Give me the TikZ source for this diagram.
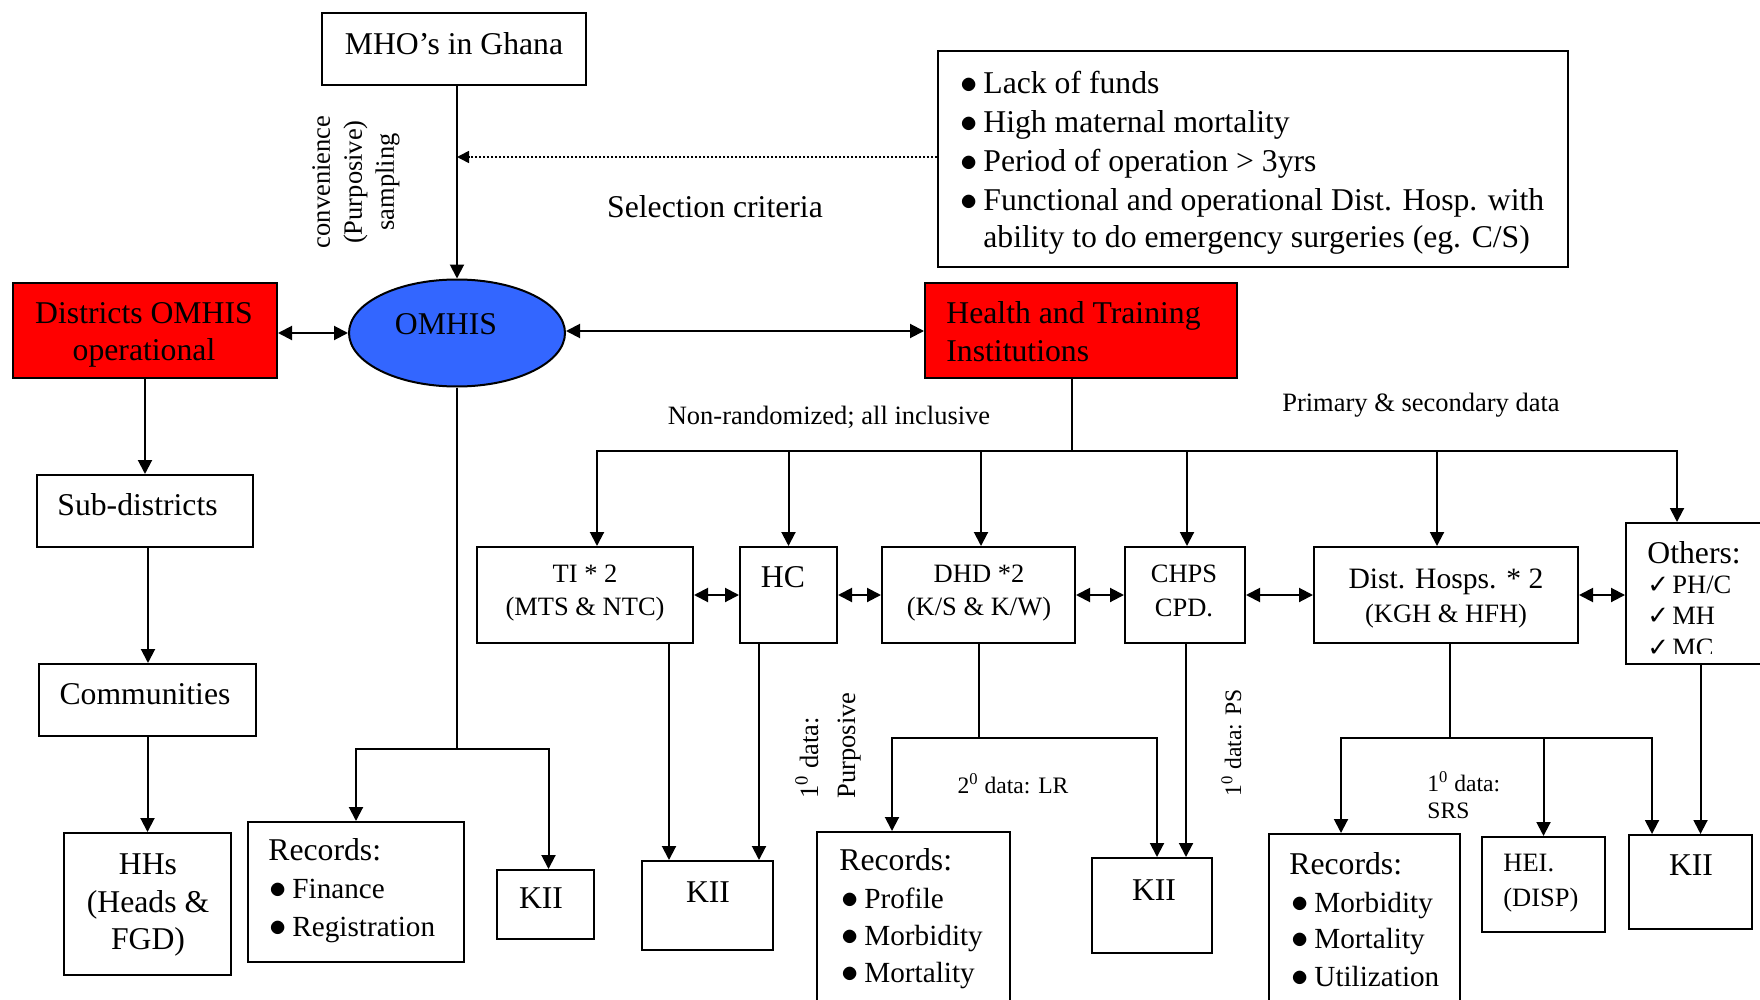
\documentclass[tikz,border=0pt]{standalone}
\usepackage{fontspec}
\setmainfont{Liberation Serif}
\newfontfamily\symfont{DejaVu Sans}
\usetikzlibrary{arrows.meta,shapes.geometric,fit}

\definecolor{boxred}{RGB}{255,0,0}
\definecolor{omhisblue}{RGB}{51,102,255}

% font sizes used in the chart
\newcommand\fm{\fontsize{15.85}{19}\selectfont}
\newcommand\fitem{\fontsize{14.6}{18}\selectfont}
\newcommand\fs{\fontsize{13.25}{16}\selectfont}
\newcommand\fxs{\fontsize{11.8}{14}\selectfont}
\newcommand\bulletitem[1]{\makebox[11.5pt][l]{\fontsize{15.85}{19}\selectfont$\bullet$}#1}
\newcommand\tickitem[1]{\makebox[12.5pt][l]{\symfont\fontsize{13}{15}\selectfont ✓}#1}
\newcommand\putlabel[4][]{\node[lbl,#1] (#2) at #3 {#4};}

\begin{document}
\begin{tikzpicture}[x=0.5pt, y=-0.5pt,
  box/.style={draw, line width=1pt, inner sep=0pt},
  redbox/.style={box, fill=boxred},
  link/.style={line width=1pt},
  thinlink/.style={line width=0.8pt},
  arr/.style={link, -{Triangle[length=7pt,width=7pt]}},
  darr/.style={link, {Triangle[length=7pt,width=7pt]}-{Triangle[length=7pt,width=7pt]}},
  lbl/.style={inner sep=0pt, anchor=base, font=\fm}]

\clip (0,0) rectangle (1760,1000);
\fill[white] (0,0) rectangle (1760,1000);

% ---------- boxes ----------
\node[box, fit={(322,13) (586,85)}] (mho) {};
\node[box, fit={(938,51) (1568,267)}] (crit) {};
\node[redbox, fit={(13,283) (277,378)}] (dist) {};
\node[draw, ellipse, fill=omhisblue, line width=1pt, inner sep=0pt,
      minimum width=108pt, minimum height=53.5pt] (omhis) at (457,333) {};
\node[redbox, fit={(925,283) (1237,378)}] (hti) {};
\node[box, fit={(37,475) (253,547)}] (sub) {};
\node[box, fit={(39,664) (256,736)}] (comm) {};
\node[box, fit={(64,833) (231,975)}] (hhs) {};
\node[box, fit={(248,822) (464,962)}] (rec1) {};
\node[box, fit={(497,870) (594,939)}] (kii1) {};
\node[box, fit={(477,547) (693,643)}] (ti) {};
\node[box, fit={(740,547) (837,643)}] (hc) {};
\node[box, fit={(882,547) (1075,643)}] (dhd) {};
\node[box, fit={(1125,547) (1245,643)}] (chps) {};
\node[box, fit={(1314,547) (1578,643)}] (dh) {};
\node[box, fit={(1626,523) (1775,664)}] (oth) {};
\node[box, fit={(642,861) (773,950)}] (kii2) {};
\node[box, fit={(817,832) (1010,1010)}] (rec2) {};
\node[box, fit={(1092,858) (1212,953)}] (kii3) {};
\node[box, fit={(1269,834) (1460,1010)}] (rec3) {};
\node[box, fit={(1482,837) (1605,932)}] (hei) {};
\node[box, fit={(1629,835) (1752,929)}] (kii4) {};

% ---------- connectors ----------
\draw[arr] (omhis.north |- mho.south) -- (omhis.north);
\coordinate (sel) at (457,157);
\draw[line width=0.8pt, dash pattern=on 0.8pt off 1.2pt, -{Triangle[length=6pt,width=6pt]}]
  (crit.west |- sel) -- (sel);
\draw[darr] (dist.east |- omhis.west) -- (omhis.west);
\draw[darr] ([yshift=1pt]omhis.east) -- ([yshift=1pt]omhis.east -| hti.west);

\draw[arr] (dist.south) -- (dist.south |- sub.north);
\draw[arr] ([xshift=1.5pt]sub.south) -- ([xshift=1.5pt]sub.south |- comm.north);
\draw[arr] (comm.south) -- (comm.south |- hhs.north);

\coordinate (obus) at (457,749);
\draw[thinlink] (omhis.south) -- (obus);
\draw[arr] (obus) -| (rec1.north);
\draw[arr] (obus) -| ([xshift=1.5pt]kii1.north);

\coordinate (hbus) at (1072,451);
\draw[link] (hti.south -| hbus) -- (hbus);
\draw[arr] (hbus) -| ([xshift=6pt]ti.north);
\draw[arr] (hbus) -| (hc.north);
\draw[arr] (hbus) -| ([xshift=1.25pt]dhd.north);
\draw[arr] (hbus) -| ([xshift=1pt]chps.north);
\draw[arr] (hbus) -| ([xshift=-4.5pt]dh.north);
\draw[arr] (hbus) -| ([xshift=-11.75pt]oth.north);

\draw[darr] (ti.east) -- (hc.west);
\draw[darr] (hc.east) -- (dhd.west);
\draw[darr] (dhd.east) -- (chps.west);
\draw[darr] (chps.east) -- (dh.west);
\draw[darr] (dh.east) -- (dh.east -| oth.west);

\draw[arr] ([xshift=42pt]ti.south) -- ([xshift=42pt]ti.south |- kii2.north);
\draw[arr] ([xshift=-14.75pt]hc.south) -- ([xshift=-14.75pt]hc.south |- kii2.north);

\coordinate (dbus) at (979,738);
\draw[thinlink] (dhd.south -| dbus) -- (dbus);
\draw[arr] (dbus) -| ([xshift=-10.75pt]rec2.north);
\draw[arr] (dbus) -| ([xshift=2.5pt]kii3.north);
\draw[arr] ([xshift=0.5pt]chps.south) -- ([xshift=0.5pt]chps.south |- kii3.north);

\coordinate (dhbus) at (1450,738);
\draw[thinlink] (dh.south -| dhbus) -- (dhbus);
\draw[arr] (dhbus) -| ([xshift=-11.75pt]rec3.north);
\draw[arr] (dhbus) -| (hei.north);
\draw[arr] (dhbus) -| ([xshift=-19.25pt]kii4.north);
\draw[arr] (oth.south) -- (oth.south |- kii4.north);

% ---------- texts ----------
\putlabel{mhot}{(454,55)}{MHO’s in Ghana}
\putlabel[anchor=base west]{cr1}{(960,94)}{\bulletitem{Lack of funds}}
\putlabel[anchor=base west]{cr2}{(960,133)}{\bulletitem{High maternal mortality}}
\putlabel[anchor=base west]{cr3}{(960,172)}{\bulletitem{Period of operation > 3yrs}}
\putlabel[anchor=base west]{cr4}{(960,211)}{\bulletitem{Functional and operational Dist. Hosp. with}}
\putlabel[anchor=base west]{cr5}{(983,248)}{ability to do emergency surgeries (eg. C/S)}
\putlabel{selt}{(715,218)}{Selection criteria}
\node[rotate=90, align=center, font=\fs, inner sep=0pt] (conv) at (356,182)
  {convenience\\(Purposive)\\sampling};

\putlabel{dt1}{(144,323)}{Districts OMHIS}
\putlabel{dt2}{(144,360)}{operational}
\putlabel{omt}{(446,334)}{OMHIS}
\putlabel[anchor=base west]{ht1}{(946,323)}{Health and Training}
\putlabel[anchor=base west]{ht2}{(946,361)}{Institutions}
\putlabel[font=\fs]{nrt}{(829,424)}{Non-randomized; all inclusive}
\putlabel[font=\fs]{pst}{(1421,411)}{Primary \& secondary data}

\putlabel[anchor=base west]{subt}{(57,515)}{Sub-districts}
\putlabel{comt}{(145,704)}{Communities}
\putlabel{hh1}{(148,874)}{HHs}
\putlabel{hh2}{(148,912)}{(Heads \&}
\putlabel{hh3}{(148,949)}{FGD)}

\putlabel[anchor=base west]{r1a}{(268,860)}{Records:}
\putlabel[anchor=base west, font=\fitem]{r1b}{(269,898)}{\bulletitem{Finance}}
\putlabel[anchor=base west, font=\fitem]{r1c}{(269,936)}{\bulletitem{Registration}}
\putlabel{k1t}{(541,908)}{KII}

\putlabel[font=\fs]{tit1}{(585,582)}{TI * 2}
\putlabel[font=\fs]{tit2}{(585,615)}{(MTS \& NTC)}
\putlabel{hct}{(783,587)}{HC}
\putlabel[font=\fs]{dht1}{(979,582)}{DHD *2}
\putlabel[font=\fs]{dht2}{(979,615)}{(K/S \& K/W)}
\putlabel[font=\fs]{cht1}{(1184,582)}{CHPS}
\putlabel[font=\fs]{cht2}{(1184,616)}{CPD.}
\putlabel[font=\fontsize{14.8}{18}\selectfont]{dht3}{(1446,588)}{Dist. Hosps. * 2}
\putlabel[font=\fs]{dht4}{(1446,622)}{(KGH \& HFH)}
\begin{scope}
  \clip (1626,523) rectangle (1775,653);
  \putlabel[anchor=base west]{ot1}{(1647,563)}{Others:}
  \putlabel[anchor=base west, font=\fs]{ot2}{(1647,593)}{\tickitem{PH/C}}
  \putlabel[anchor=base west, font=\fs]{ot3}{(1647,624)}{\tickitem{MH}}
  \putlabel[anchor=base west, font=\fs]{ot4}{(1647,656)}{\tickitem{MC}}
\end{scope}

\putlabel[rotate=90, anchor=base west, font=\fs]{pd1}{(818,799)}{1\textsuperscript{0} data:}
\putlabel[rotate=90, anchor=base west, font=\fs]{pd2}{(855,799)}{Purposive}
\putlabel[font=\fxs]{lrt}{(1013,793)}{2\textsuperscript{0} data: LR}
\putlabel[rotate=90, anchor=base west, font=\fxs]{pst2}{(1241,797)}{1\textsuperscript{0} data: PS}
\putlabel[anchor=base west, font=\fxs]{srs1}{(1427,791)}{1\textsuperscript{0} data:}
\putlabel[anchor=base west, font=\fxs]{srs2}{(1427,818)}{SRS}

\putlabel[anchor=base west]{r2a}{(839,870)}{Records:}
\putlabel[anchor=base west, font=\fitem]{r2b}{(841,908)}{\bulletitem{Profile}}
\putlabel[anchor=base west, font=\fitem]{r2c}{(841,945)}{\bulletitem{Morbidity}}
\putlabel[anchor=base west, font=\fitem]{r2d}{(841,982)}{\bulletitem{Mortality}}
\putlabel{k2t}{(708,902)}{KII}
\putlabel{k3t}{(1154,900)}{KII}

\putlabel[anchor=base west]{r3a}{(1289,874)}{Records:}
\putlabel[anchor=base west, font=\fitem]{r3b}{(1291,912)}{\bulletitem{Morbidity}}
\putlabel[anchor=base west, font=\fitem]{r3c}{(1291,948)}{\bulletitem{Mortality}}
\putlabel[anchor=base west, font=\fitem]{r3d}{(1291,986)}{\bulletitem{Utilization}}
\putlabel[anchor=base west, font=\fs]{heit1}{(1503,871)}{HEI.}
\putlabel[anchor=base west, font=\fs]{heit2}{(1503,906)}{(DISP)}
\putlabel{k4t}{(1691,875)}{KII}
\end{tikzpicture}
\end{document}
